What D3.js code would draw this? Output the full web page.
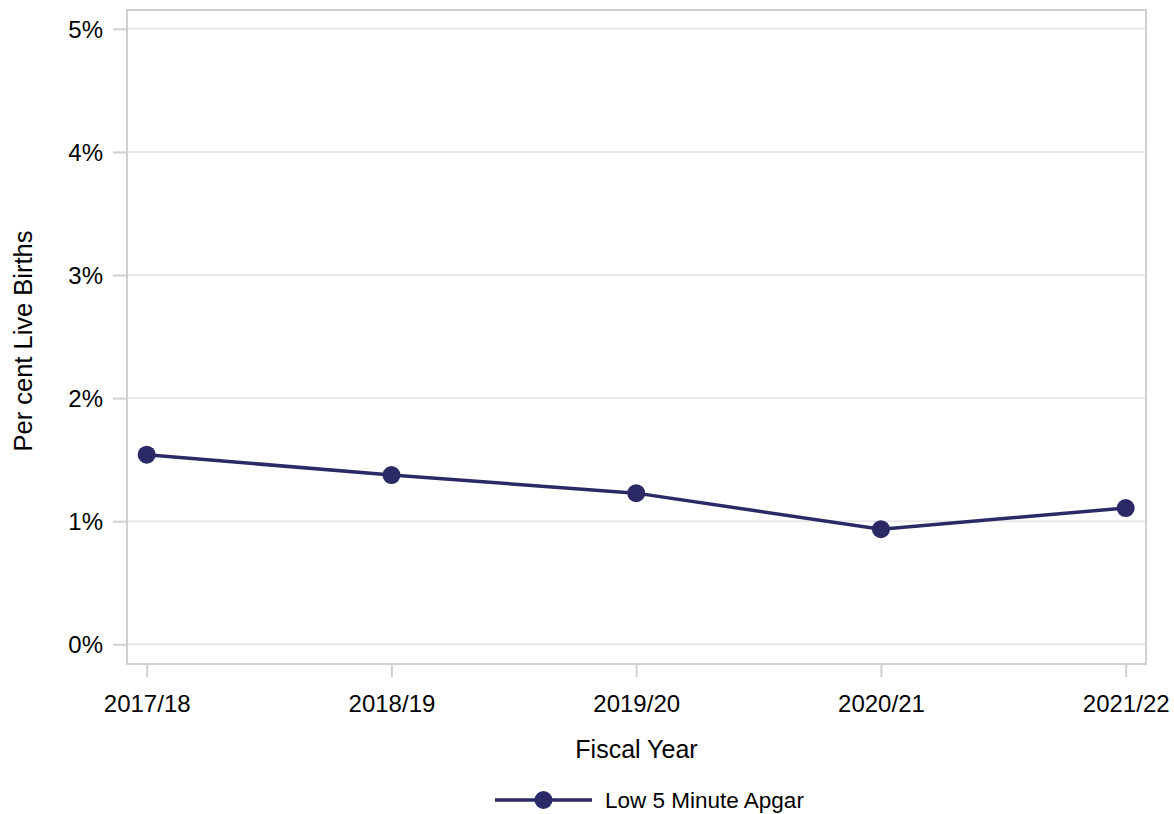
<!DOCTYPE html>
<html><head><meta charset="utf-8">
<script src="https://cdn.jsdelivr.net/npm/d3@7"></script>
<style>body{margin:0;background:#fff;} text{font-family:"Liberation Sans",Arial,sans-serif;fill:#000;}</style>
</head><body>
<svg id="c" width="1174" height="814"></svg>
<script>
const categories = ["2017/18","2018/19","2019/20","2020/21","2021/22"];
const values = [1.54, 1.375, 1.228, 0.935, 1.107];
const yTicks = [0,1,2,3,4,5];
const seriesName = "Low 5 Minute Apgar";

const svg = d3.select("#c");
const L=127, R=1146, T=10, B=664;
const col = "#2b2a66";
const x = d3.scalePoint().domain(categories).range([146.7,1125.7]);
const y = d3.scaleLinear().domain([0,5]).range([644.3,28.8]);

// gridlines
svg.append("g").selectAll("line").data(yTicks).join("line")
  .attr("x1",L).attr("x2",R).attr("y1",d=>y(d)).attr("y2",d=>y(d))
  .attr("stroke","#e8e8e8").attr("stroke-width",2);

// frame
svg.append("rect").attr("x",L).attr("y",T).attr("width",R-L).attr("height",B-T)
  .attr("fill","none").attr("stroke","#d0d0d0").attr("stroke-width",2);

// y axis
const ya = svg.append("g").attr("transform",`translate(${L-1},0)`)
  .call(d3.axisLeft(y).tickValues(yTicks).tickFormat(d=>d+"%").tickSize(13).tickPadding(10));
ya.select(".domain").remove();
ya.selectAll(".tick line").attr("stroke","#d0d0d0").attr("stroke-width",2);
ya.selectAll(".tick text").attr("font-size",24).attr("fill","#000").attr("dy","0.35em");

// x axis
const xa = svg.append("g").attr("transform",`translate(0,${B+1})`)
  .call(d3.axisBottom(x).tickSize(12).tickPadding(10));
xa.select(".domain").remove();
xa.selectAll(".tick line").attr("stroke","#d0d0d0").attr("stroke-width",2);
xa.selectAll(".tick text").attr("font-size",24).attr("fill","#000").attr("y",46.5).attr("dy",0);

// axis titles
svg.append("text").attr("x",(L+R)/2).attr("y",758).attr("text-anchor","middle").attr("font-size",25).text("Fiscal Year");
svg.append("text").attr("transform","translate(32,341) rotate(-90)").attr("text-anchor","middle").attr("font-size",25.5).text("Per cent Live Births");

// line
const data = categories.map((c,i)=>({c,v:values[i]}));
svg.append("path").datum(data).attr("fill","none").attr("stroke",col).attr("stroke-width",3.5)
  .attr("d",d3.line().x(d=>x(d.c)).y(d=>y(d.v)));
svg.append("g").selectAll("circle").data(data).join("circle")
  .attr("cx",d=>x(d.c)).attr("cy",d=>y(d.v)).attr("r",9).attr("fill",col);

// legend
const lg = svg.append("g");
lg.append("line").attr("x1",495).attr("x2",592).attr("y1",800).attr("y2",800).attr("stroke",col).attr("stroke-width",3.5);
lg.append("circle").attr("cx",543.5).attr("cy",800).attr("r",9).attr("fill",col);
lg.append("text").attr("x",605).attr("y",800).attr("dy","0.35em").attr("font-size",22.5).text(seriesName);
</script>
</body></html>
